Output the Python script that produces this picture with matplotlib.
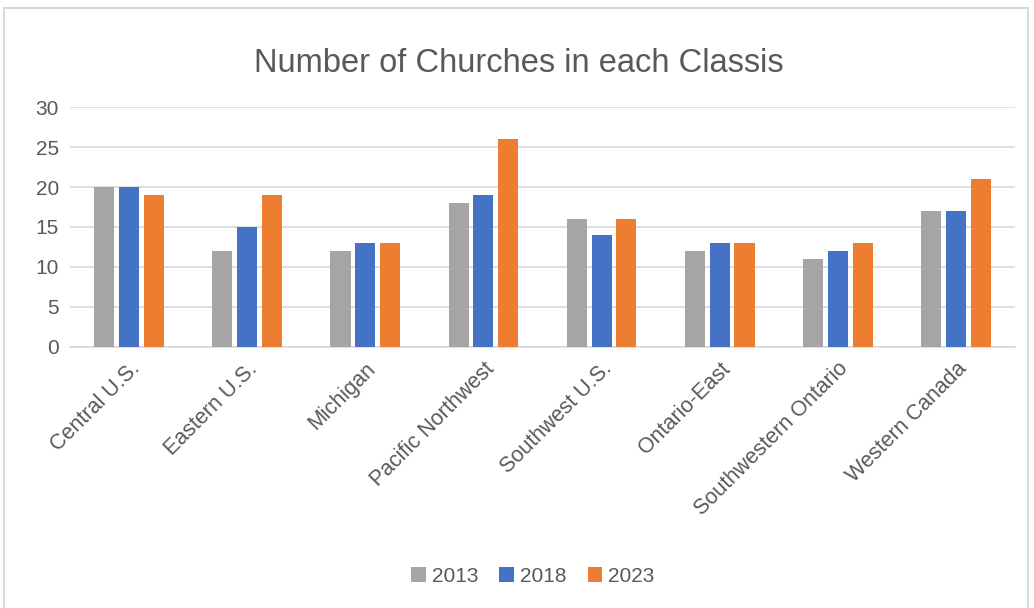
import matplotlib.pyplot as plt
import numpy as np
from matplotlib.patches import Rectangle

# number of churches per classis
classes = ['Central U.S.', 'Eastern U.S.', 'Michigan', 'Pacific Northwest',
           'Southwest U.S.', 'Ontario-East', 'Southwestern Ontario', 'Western Canada']
years = ['2013', '2018', '2023']
c2013 = [20, 12, 12, 18, 16, 12, 11, 17]
c2018 = [20, 15, 13, 19, 14, 13, 12, 17]
c2023 = [19, 19, 13, 26, 16, 13, 13, 21]
colors = ['#A5A5A5', '#4472C4', '#ED7D31']

txt = '#595959'
plt.rcParams['font.family'] = ['Liberation Sans', 'DejaVu Sans']

fig = plt.figure(figsize=(10.34, 6.08), dpi=100)
ax = fig.add_axes([0.0677, 0.4293, 0.9139, 0.3947])

# chart border like excel
fig.patches.append(Rectangle((0.004, -0.01), 0.99, 0.997, transform=fig.transFigure,
                             fill=False, edgecolor='#D9D9D9', linewidth=1.5))

x = np.arange(len(classes))
w = 0.17
step = 0.21
for i, vals in enumerate([c2013, c2018, c2023]):
    ax.bar(x + (i - 1) * step, vals, width=w, color=colors[i], label=years[i], zorder=3)

ax.set_xlim(-0.5, len(classes) - 0.5)
ax.set_ylim(0, 30)
ax.set_yticks(range(0, 31, 5))
ax.yaxis.grid(True, color='#D9D9D9', linewidth=1.2, zorder=0)
for s in ['top', 'right', 'left']:
    ax.spines[s].set_visible(False)
ax.spines['bottom'].set_color('#D9D9D9')
ax.spines['bottom'].set_linewidth(1.2)
ax.tick_params(axis='y', length=0, colors=txt, labelsize=15, pad=8)
ax.tick_params(axis='x', length=0, colors=txt, labelsize=15.5, pad=8)
ax.set_xticks(x)
ax.set_xticklabels(classes, rotation=45, ha='right', rotation_mode='anchor')

fig.text(0.502, 0.895, 'Number of Churches in each Classis', ha='center', va='center',
         fontsize=23.5, color=txt)

ax.legend(loc='center', bbox_to_anchor=(0.49, -0.955), ncol=3, frameon=False,
          fontsize=15, labelcolor=txt, handlelength=0.7, handleheight=0.7,
          handletextpad=0.3, columnspacing=1.0)

fig.savefig('out.png', dpi=100)
